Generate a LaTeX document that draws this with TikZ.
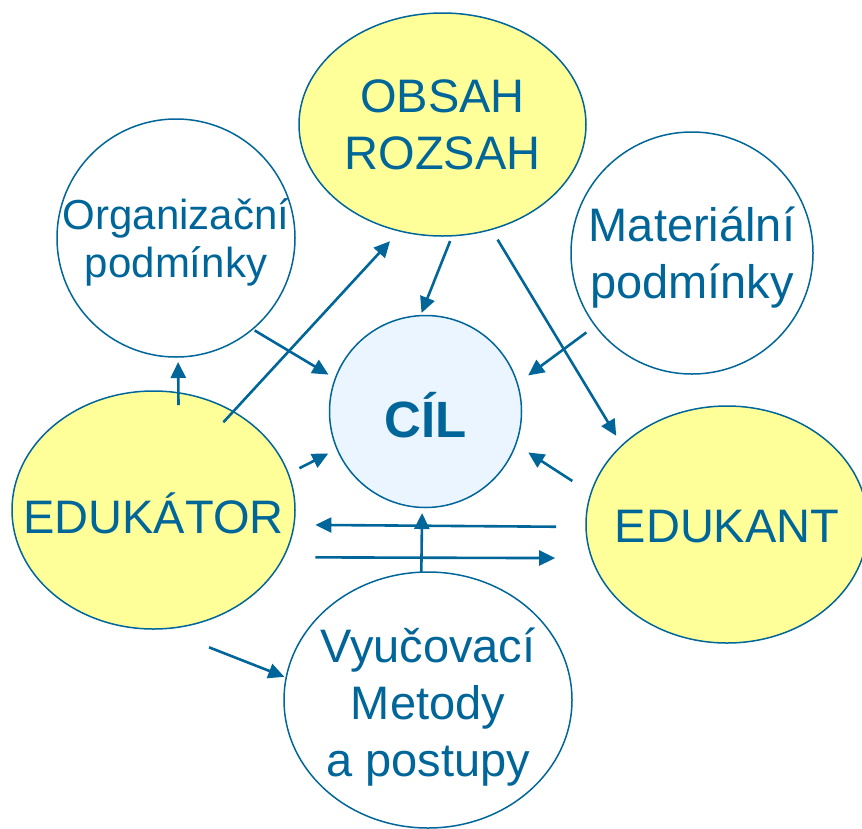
\documentclass[tikz,border=0pt]{standalone}
\usepackage{fontspec}
\setmainfont{Liberation Sans}
\usetikzlibrary{shapes.geometric,arrows.meta}
\definecolor{ink}{HTML}{006699}
\definecolor{lemon}{HTML}{FFFF99}
\definecolor{sky}{HTML}{EAF5FF}
\tikzset{
  bubble/.style={ellipse, draw=ink, line width=1.5pt, inner sep=0pt, outer sep=0pt},
  word/.style={text=ink, align=center, inner sep=0pt, font=\fontsize{47}{57}\selectfont},
  link/.style={draw=ink, line width=2.6pt, -{Triangle[length=16pt,width=15pt]}}
}
\begin{document}
\begin{tikzpicture}[x=1pt, y=-1pt, line join=round]
		\useasboundingbox (0,0) rectangle (862,828);
		% uzly
		\node[bubble, fill=lemon, minimum width=287, minimum height=223, label={[word]center:{OBSAH\\ROZSAH}}] (obsah) at (442.5,124.5) {};
		\node[bubble, fill=white, minimum size=238, label={[word, yshift=-4.7, font=\fontsize{42}{48}\selectfont]center:{Organizační\\podmínky}}] (org) at (176,238) {};
		\node[bubble, fill=white, minimum size=242, label={[word, yshift=-4.6]center:{Materiální\\podmínky}}] (mat) at (692,253) {};
		\node[bubble, fill=sky, minimum size=192, label={[word, yshift=-3.5, font=\fontsize{51}{61}\selectfont\bfseries]center:{CÍL}}] (cil) at (425.5,411.5) {};
		\node[bubble, fill=lemon, minimum width=283, minimum height=238, label={[word, yshift=-3]center:{EDUKÁTOR}}] (edukator) at (153.5,510) {};
		\node[bubble, fill=lemon, minimum width=282, minimum height=237, label={[word, yshift=-1.7]center:{EDUKANT}}] (edukant) at (727,524.5) {};
		\node[bubble, fill=white, minimum width=288, minimum height=256, label={[word, yshift=-7.4]center:{Vyučovací\\Metody\\a postupy}}] (metody) at (428,700) {};
		% šipky
		\draw[link, shorten <=-12.2, shorten >=5] (edukator.78.2) -- (org.-89);
		\draw[link, shorten <=-14.4, shorten >=14] (edukator.51.2) -- (obsah.-112.5);
		\draw[link, shorten <=2.5, shorten >=7.9] (org.-50.4) -- (cil.160.9);
		\draw[link, shorten <=5.7, shorten >=2.9] (obsah.-85) -- (cil.93.9);
		\draw[link, shorten <=12, shorten >=11.2] (obsah.-65.9) -- (edukant.143.1);
		\draw[link, shorten <=11.2, shorten >=13.5] (mat.-143.3) -- (cil.17.25);
		\draw[link, shorten <=12.5, shorten >=10] (edukator.15.6) -- (cil.-157.2);
		\draw[link, shorten <=22.3, shorten >=14.9] (edukant.167.5) -- (cil.-20.3);
		\draw[link, shorten <=30, shorten >=21.5] (edukant.181) -- (edukator.-6.9);
		\draw[link, shorten <=32, shorten >=36.75] (edukator.-20.3) -- (edukant.-166.1);
		\draw[link, shorten >=5.6] (metody.93.1) -- (cil.-92.7);
		\draw[link, shorten <=50.8, shorten >=2] (edukator.-86.4) -- (metody.171.9);
\end{tikzpicture}
\end{document}
